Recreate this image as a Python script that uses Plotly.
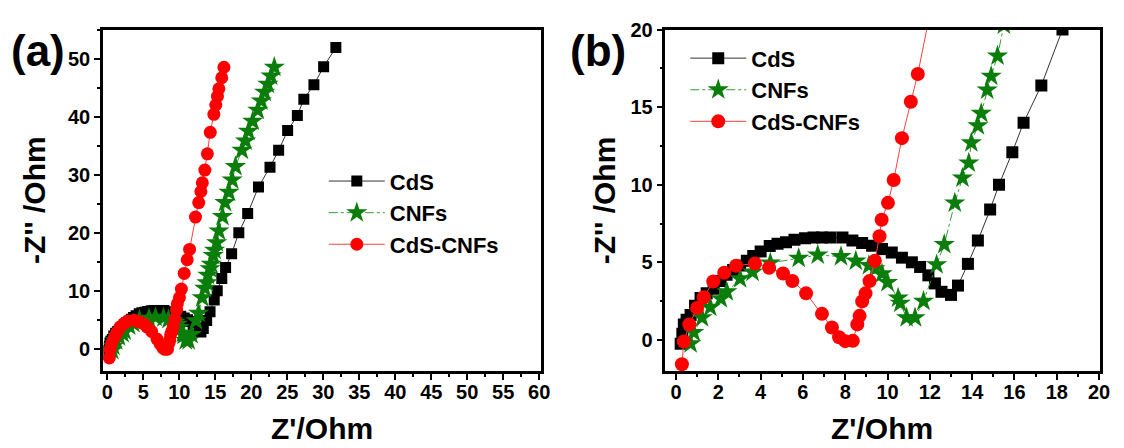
import plotly.graph_objects as go

# ---------------- data ----------------
cds_x = [0.22, 0.3, 0.37, 0.5, 0.69, 0.9, 1.16, 1.45, 1.78, 2.1, 2.39, 2.7, 3.03, 3.35, 3.65,
         4.0, 4.43, 4.8, 5.2, 5.6, 6.1, 6.5, 6.9, 7.3, 7.87, 8.34, 8.8, 9.27, 9.74, 10.2,
         10.68, 11.15, 11.54, 11.93, 12.24, 12.55, 13.0, 13.33, 13.8, 14.27, 14.85, 15.27,
         15.9, 16.43, 17.27, 18.27, 19.5, 21.0, 22.6, 23.8, 25.05, 26.4, 27.3, 28.7, 30.05, 31.75]
cds_y = [-0.25, 0.4, 1.0, 1.3, 1.6, 2.2, 2.7, 3.0, 3.3, 3.8, 4.2, 4.5, 4.8, 5.1, 5.4,
         5.7, 6.05, 6.2, 6.3, 6.45, 6.55, 6.6, 6.6, 6.6, 6.6, 6.4, 6.25, 6.06, 5.85, 5.63,
         5.3, 5.0, 4.7, 4.16, 3.64, 3.1, 2.9, 3.5, 4.9, 6.4, 8.4, 10.0,
         12.1, 14.0, 16.4, 20.0, 23.3, 27.9, 31.3, 34.2, 37.6, 40.2, 43.0, 45.5, 48.6, 51.9]

cnf_x = [0.69, 0.84, 1.23, 1.62, 2.12, 2.4, 3.03, 3.62, 4.46, 5.8, 6.7, 7.8, 8.5, 9.12,
         9.4, 9.74, 10.0, 10.5, 10.6, 10.9, 11.3, 11.7, 12.32, 12.68, 13.18, 13.54, 13.84,
         13.96, 14.27, 14.43, 14.71, 14.9, 15.2, 15.5, 16.0, 16.35, 16.9, 17.35, 17.8, 18.7,
         19.2, 19.6, 20.2, 20.9, 21.4, 21.85, 22.3, 22.75, 23.2]
cnf_y = [-0.25, 0.48, 1.43, 2.1, 2.65, 3.1, 3.95, 4.37, 4.96, 5.26, 5.47, 5.37, 5.08, 4.8,
         4.58, 4.26, 3.7, 2.7, 2.37, 1.43, 1.43, 2.5, 4.84, 6.15, 8.83, 10.43, 11.4,
         12.7, 13.8, 14.6, 16.1, 17.0, 18.3, 20.3, 22.8, 25.2, 27.0, 29.1, 31.4, 34.2,
         35.8, 37.5, 39.2, 41.1, 42.7, 44.2, 45.6, 47.0, 48.5]

cc_x = [0.28, 0.37, 0.63, 1.0, 1.31, 1.76, 2.28, 2.84, 3.73, 4.4, 5.06, 5.5, 6.15, 6.9,
        7.37, 7.71, 8.0, 8.36, 8.57, 8.68, 8.8, 8.96, 9.15, 9.4, 9.62, 9.72, 10.02, 10.29,
        10.68, 11.1, 11.43, 12.25, 12.7, 13.0, 13.2, 13.55, 13.9, 14.3, 14.8, 15.07, 15.3,
        15.5, 15.9, 16.2]
cc_y = [-1.57, -0.1, 1.0, 2.06, 2.75, 3.76, 4.33, 4.78, 4.92, 4.65, 4.28, 3.8, 3.0, 1.68,
        0.8, 0.17, -0.08, -0.06, 1.0, 1.55, 2.48, 3.0, 3.79, 5.1, 6.68, 7.74, 8.83, 10.3,
        13.0, 15.35, 17.13, 22.7, 25.2, 27.1, 28.6, 30.8, 33.6, 37.3, 40.4, 42.0, 43.5,
        44.8, 46.7, 48.5]

series_names = ["CdS", "CNFs", "CdS-CNFs"]
panel_labels = ["(a)", "(b)"]
x_title = "Z'/Ohm"
y_title = "-Z'' /Ohm"

# ---------------- styling ----------------
W, H = 1124, 448
FONT = "Liberation Sans"
styles = [
    dict(x=cds_x, y=cds_y, name=series_names[0], symbol="square", msize=[11, 12],
         mcolor="#000000", lcolor="#333333", dash="solid"),
    dict(x=cnf_x, y=cnf_y, name=series_names[1], symbol="star", msize=[16, 16],
         mcolor="#0a7d0a", lcolor="#3a9a3a", dash="dashdot"),
    dict(x=cc_x, y=cc_y, name=series_names[2], symbol="circle", msize=[13, 14],
         mcolor="#ff0000", lcolor="#ff4040", dash="solid"),
]

fig = go.Figure()
for panel in range(2):
    xa = "x" if panel == 0 else "x2"
    ya = "y" if panel == 0 else "y2"
    lg = "legend" if panel == 0 else "legend2"
    for s in styles:
        fig.add_trace(go.Scatter(
            x=s["x"], y=s["y"], name=s["name"], mode="lines+markers",
            xaxis=xa, yaxis=ya, legend=lg,
            line=dict(color=s["lcolor"], width=1, dash=s["dash"]),
            marker=dict(symbol=s["symbol"], size=s["msize"][panel], color=s["mcolor"],
                        line=dict(width=0)),
        ))

tickfont = dict(family=FONT, size=20, color="black", weight="bold")

def axis(domain, rng, dtick, minor, standoff=0):
    return dict(domain=domain, range=rng, dtick=dtick, tick0=0, showgrid=False, zeroline=False,
                showline=True, linewidth=2.5, linecolor="black", mirror=True,
                ticks="outside", ticklen=6, tickwidth=2, tickcolor="black",
                ticklabelstandoff=standoff,
                minor=dict(ticks="outside", ticklen=3, tickwidth=1.5, tickcolor="black",
                           dtick=minor, showgrid=False),
                tickfont=tickfont, fixedrange=True)

ydom = [(H - 369) / H, (H - 19) / H]
legfont = dict(family=FONT, size=22, color="black", weight="bold")
fig.update_layout(
    width=W, height=H, margin=dict(l=0, r=0, t=0, b=0),
    plot_bgcolor="white", paper_bgcolor="white",
    xaxis=dict(axis([103 / W, 545 / W], [-0.6, 60.2], 5, 2.5, -5), anchor="y"),
    yaxis=dict(axis(ydom, [-3.8, 55], 10, 5), anchor="x"),
    xaxis2=dict(axis([671 / W, 1110 / W], [-0.5, 20.05], 2, 1, -5), anchor="y2"),
    yaxis2=dict(axis(ydom, [-2, 20], 5, 2.5), anchor="x2"),
    showlegend=True,
    legend=dict(x=326 / W, y=1 - 153 / H, xanchor="left", yanchor="top",
                font=legfont, bgcolor="rgba(0,0,0,0)", itemwidth=56),
    legend2=dict(x=691 / W, y=1 - 27 / H, xanchor="left", yanchor="top",
                 font=legfont, bgcolor="rgba(0,0,0,0)", itemwidth=56),
)

ann_font = dict(family=FONT, size=30, color="black", weight="bold")
# axis titles
for cx in [324, 890]:
    fig.add_annotation(text=x_title, x=cx / W, y=1 - 428 / H, xref="paper", yref="paper",
                       showarrow=False, font=ann_font, xanchor="center", yanchor="middle")
for cx in [34, 609]:
    fig.add_annotation(text=y_title, x=cx / W, y=1 - 194 / H, xref="paper", yref="paper",
                       showarrow=False, font=ann_font, textangle=-90,
                       xanchor="center", yanchor="middle")
# panel labels
for lbl, cx in zip(panel_labels, [37, 603]):
    fig.add_annotation(text=lbl, x=cx / W, y=1 - 40 / H, xref="paper", yref="paper",
                       showarrow=False, font=dict(family=FONT, size=44, color="black", weight="bold"),
                       xanchor="center", yanchor="middle")

fig.write_html("out.html", post_script="document.body.style.margin='0';",
               config={"displayModeBar": False})
